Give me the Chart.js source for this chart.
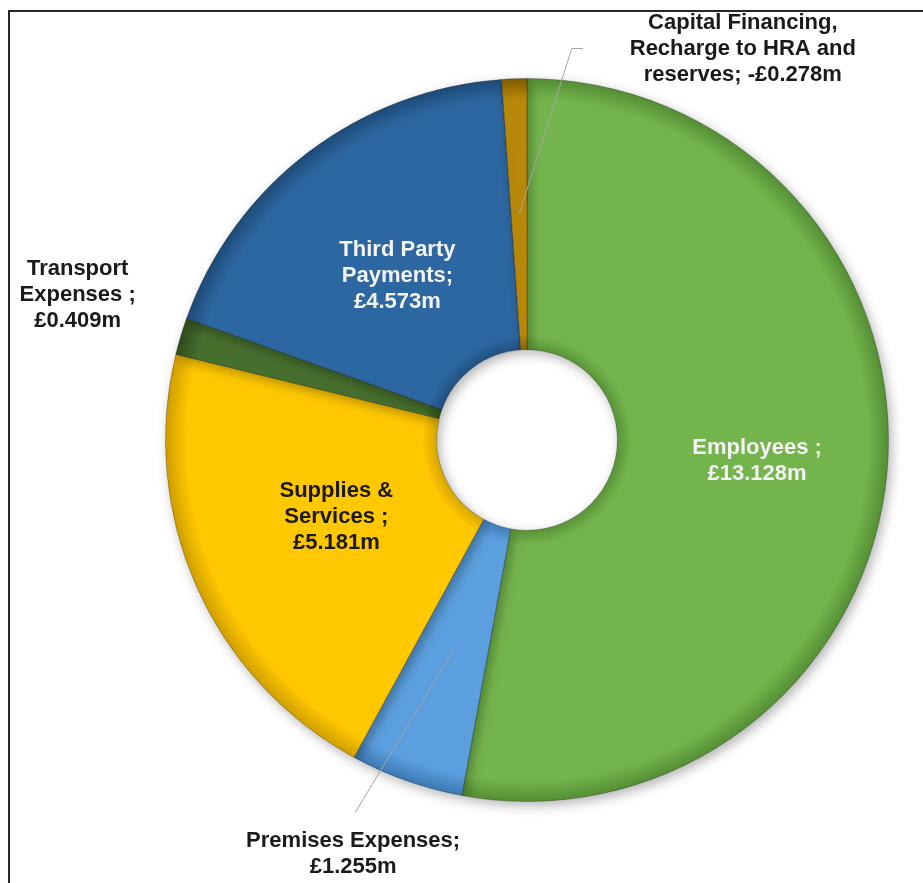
<!DOCTYPE html>
<html lang="en">
<head>
    <meta charset="UTF-8">
    <title>Expenditure Breakdown</title>
    <script src="https://cdn.jsdelivr.net/npm/chart.js"></script>
    <style>
        html, body {
            margin: 0;
            padding: 0;
            background: #ffffff;
        }
        .wrap {
            position: relative;
            width: 923px;
            height: 883px;
            overflow: hidden;
        }
        .frame {
            position: absolute;
            left: 8px;
            top: 10px;
            width: 1000px;
            height: 1000px;
            border-top: 2px solid #262626;
            border-left: 2px solid #262626;
        }
        canvas {
            position: absolute;
            left: 0;
            top: 0;
        }
    </style>
</head>
<body>
    <div class="wrap">
        <div class="frame"></div>
        <canvas id="costChart" width="923" height="883"></canvas>
    </div>

    <script>
        // Data (values in £m)
        const categories = [
            'Employees',
            'Premises Expenses',
            'Supplies & Services',
            'Transport Expenses',
            'Third Party Payments',
            'Capital Financing, Recharge to HRA and reserves'
        ];
        const values = [13.128, 1.255, 5.181, 0.409, 4.573, -0.278];

        // Label text as printed on the chart, {v} is replaced by the value
        const labelLines = [
            ['Employees ;', '{v}'],
            ['Premises Expenses;', '{v}'],
            ['Supplies &', 'Services ;', '{v}'],
            ['Transport', 'Expenses ;', '{v}'],
            ['Third Party', 'Payments;', '{v}'],
            ['Capital Financing,', 'Recharge to HRA and', 'reserves; {v}']
        ];

        // Styling
        const sliceColours = ['#74b44c', '#5b9fde', '#ffc800', '#466e2d', '#2d67a1', '#b8880a'];
        const sliceDark = ['#548e34', '#3b78b2', '#cf9e00', '#2e4c1c', '#1e4b78', '#7d5c00'];
        const labelColours = ['#f4f4f4', '#1a1a1a', '#1a1a1a', '#1a1a1a', '#f4f4f4', '#1a1a1a'];

        // Where each label goes: inside = nudge from the slice's mid point,
        // otherwise rx/ry in units of the outer radius from the centre
        const labelPlace = [
            { inside: true, dx: 5, dy: 0 },
            { inside: false, rx: -0.481, ry: 1.146, leader: [[-0.475, 1.030]] },
            { inside: true, dx: 16, dy: -14 },
            { inside: false, rx: -1.243, ry: -0.401 },
            { inside: true, dx: 7, dy: 16 },
            { inside: false, rx: 0.597, ry: -1.083, leader: [[0.124, -1.083], [0.155, -1.083]] }
        ];

        function formatValue(v) {
            return (v < 0 ? '-£' : '£') + Math.abs(v).toFixed(3) + 'm';
        }

        // Radial shading to give the ring a bevelled look
        function ringShade(c) {
            const i = c.dataIndex;
            const a = c.chart.chartArea;
            if (!a || i === undefined) return sliceColours[i || 0];
            const cx = (a.left + a.right) / 2;
            const cy = (a.top + a.bottom) / 2;
            const R = Math.min(a.right - a.left, a.bottom - a.top) / 2;
            const g = c.chart.ctx.createRadialGradient(cx, cy, 0, cx, cy, R);
            g.addColorStop(0.24, sliceDark[i]);
            g.addColorStop(0.29, sliceColours[i]);
            g.addColorStop(0.94, sliceColours[i]);
            g.addColorStop(1, sliceDark[i]);
            return g;
        }

        const ringShadow = {
            id: 'ringShadow',
            beforeDatasetDraw(chart) {
                const ctx = chart.ctx;
                ctx.save();
                ctx.shadowColor = 'rgba(0, 0, 0, 0.3)';
                ctx.shadowBlur = 12;
                ctx.shadowOffsetX = 3;
                ctx.shadowOffsetY = 4;
            },
            afterDatasetDraw(chart) {
                chart.ctx.restore();
            }
        };

        const sliceLabels = {
            id: 'sliceLabels',
            afterDraw(chart) {
                const ctx = chart.ctx;
                const meta = chart.getDatasetMeta(0);
                const cx = meta.data[0].x;
                const cy = meta.data[0].y;
                const R = meta.data[0].outerRadius;
                const lineH = 26;

                meta.data.forEach((arc, i) => {
                    const p = labelPlace[i];
                    const mid = arc.tooltipPosition();
                    let x, y;
                    if (p.inside) {
                        x = mid.x + p.dx;
                        y = mid.y + p.dy;
                    } else {
                        x = cx + p.rx * R;
                        y = cy + p.ry * R;
                    }

                    if (p.leader) {
                        ctx.save();
                        ctx.strokeStyle = '#a6a6a6';
                        ctx.lineWidth = 1;
                        ctx.beginPath();
                        ctx.moveTo(mid.x, mid.y);
                        p.leader.forEach(pt => ctx.lineTo(cx + pt[0] * R, cy + pt[1] * R));
                        ctx.stroke();
                        ctx.restore();
                    }

                    const lines = labelLines[i].map(s => s.replace('{v}', formatValue(values[i])));
                    ctx.save();
                    ctx.font = 'bold 22px "Liberation Sans", Arial, sans-serif';
                    ctx.fillStyle = labelColours[i];
                    ctx.textAlign = 'center';
                    ctx.textBaseline = 'middle';
                    const top = y - (lines.length - 1) * lineH / 2;
                    lines.forEach((s, k) => ctx.fillText(s, x, top + k * lineH));
                    ctx.restore();
                });
            }
        };

        const ctx = document.getElementById('costChart').getContext('2d');
        const costChart = new Chart(ctx, {
            type: 'doughnut',
            data: {
                labels: categories,
                datasets: [{
                    data: values.map(v => Math.abs(v)),
                    backgroundColor: ringShade,
                    borderColor: 'rgba(0, 0, 0, 0.25)',
                    borderWidth: 1
                }]
            },
            options: {
                responsive: false,
                animation: false,
                cutout: '25%',
                layout: {
                    padding: { top: 78, bottom: 81, left: 165, right: 34 }
                },
                plugins: {
                    legend: { display: false },
                    tooltip: { enabled: false }
                }
            },
            plugins: [ringShadow, sliceLabels]
        });
    </script>
</body>
</html>
